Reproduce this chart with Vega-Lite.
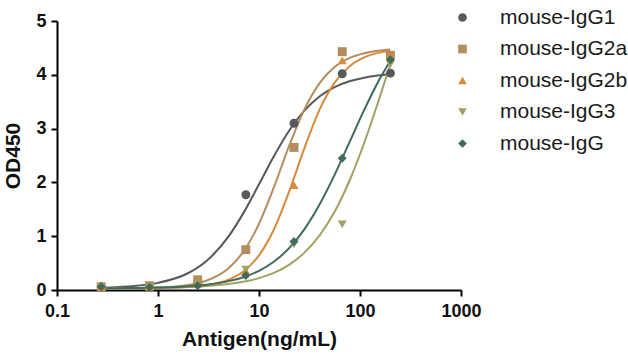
{
  "$schema": "https://vega.github.io/schema/vega-lite/v6.json",
  "width": 404,
  "height": 269,
  "autosize": {"type": "none"},
  "padding": {"left": 57, "top": 21, "right": 167, "bottom": 70},
  "background": "white",
  "datasets": {
    "points": [
      {"series": "mouse-IgG1", "antigen": 0.274, "od": 0.06},
      {"series": "mouse-IgG1", "antigen": 0.823, "od": 0.07},
      {"series": "mouse-IgG1", "antigen": 2.47, "od": 0.15},
      {"series": "mouse-IgG1", "antigen": 7.41, "od": 1.77},
      {"series": "mouse-IgG1", "antigen": 22.2, "od": 3.1},
      {"series": "mouse-IgG1", "antigen": 66.7, "od": 4.02},
      {"series": "mouse-IgG1", "antigen": 200, "od": 4.03},
      {"series": "mouse-IgG2a", "antigen": 0.274, "od": 0.06},
      {"series": "mouse-IgG2a", "antigen": 0.823, "od": 0.08},
      {"series": "mouse-IgG2a", "antigen": 2.47, "od": 0.19},
      {"series": "mouse-IgG2a", "antigen": 7.41, "od": 0.75},
      {"series": "mouse-IgG2a", "antigen": 22.2, "od": 2.65},
      {"series": "mouse-IgG2a", "antigen": 66.7, "od": 4.43},
      {"series": "mouse-IgG2a", "antigen": 200, "od": 4.36},
      {"series": "mouse-IgG2b", "antigen": 0.274, "od": 0.05},
      {"series": "mouse-IgG2b", "antigen": 0.823, "od": 0.06},
      {"series": "mouse-IgG2b", "antigen": 2.47, "od": 0.12},
      {"series": "mouse-IgG2b", "antigen": 7.41, "od": 0.35},
      {"series": "mouse-IgG2b", "antigen": 22.2, "od": 1.95},
      {"series": "mouse-IgG2b", "antigen": 66.7, "od": 4.27},
      {"series": "mouse-IgG2b", "antigen": 200, "od": 4.35},
      {"series": "mouse-IgG3", "antigen": 0.274, "od": 0.05},
      {"series": "mouse-IgG3", "antigen": 0.823, "od": 0.05},
      {"series": "mouse-IgG3", "antigen": 2.47, "od": 0.1},
      {"series": "mouse-IgG3", "antigen": 7.41, "od": 0.38},
      {"series": "mouse-IgG3", "antigen": 22.2, "od": 0.85},
      {"series": "mouse-IgG3", "antigen": 66.7, "od": 1.22},
      {"series": "mouse-IgG3", "antigen": 200, "od": 4.2},
      {"series": "mouse-IgG", "antigen": 0.274, "od": 0.06},
      {"series": "mouse-IgG", "antigen": 0.823, "od": 0.05},
      {"series": "mouse-IgG", "antigen": 2.47, "od": 0.08},
      {"series": "mouse-IgG", "antigen": 7.41, "od": 0.27},
      {"series": "mouse-IgG", "antigen": 22.2, "od": 0.9},
      {"series": "mouse-IgG", "antigen": 66.7, "od": 2.45},
      {"series": "mouse-IgG", "antigen": 200, "od": 4.28}
    ],
    "curves": [
      {"series": "mouse-IgG1", "antigen": 0.27, "od": 0.044},
      {"series": "mouse-IgG1", "antigen": 0.5, "od": 0.066},
      {"series": "mouse-IgG1", "antigen": 1, "od": 0.132},
      {"series": "mouse-IgG1", "antigen": 2, "od": 0.316},
      {"series": "mouse-IgG1", "antigen": 3, "od": 0.535},
      {"series": "mouse-IgG1", "antigen": 5, "od": 0.996},
      {"series": "mouse-IgG1", "antigen": 7, "od": 1.429},
      {"series": "mouse-IgG1", "antigen": 10, "od": 1.965},
      {"series": "mouse-IgG1", "antigen": 14, "od": 2.481},
      {"series": "mouse-IgG1", "antigen": 20, "od": 2.969},
      {"series": "mouse-IgG1", "antigen": 28, "od": 3.329},
      {"series": "mouse-IgG1", "antigen": 40, "od": 3.601},
      {"series": "mouse-IgG1", "antigen": 56, "od": 3.771},
      {"series": "mouse-IgG1", "antigen": 80, "od": 3.885},
      {"series": "mouse-IgG1", "antigen": 110, "od": 3.947},
      {"series": "mouse-IgG1", "antigen": 150, "od": 3.986},
      {"series": "mouse-IgG1", "antigen": 200, "od": 4.009},
      {"series": "mouse-IgG2a", "antigen": 0.27, "od": 0.031},
      {"series": "mouse-IgG2a", "antigen": 0.5, "od": 0.034},
      {"series": "mouse-IgG2a", "antigen": 1, "od": 0.046},
      {"series": "mouse-IgG2a", "antigen": 2, "od": 0.095},
      {"series": "mouse-IgG2a", "antigen": 3, "od": 0.173},
      {"series": "mouse-IgG2a", "antigen": 5, "od": 0.406},
      {"series": "mouse-IgG2a", "antigen": 7, "od": 0.712},
      {"series": "mouse-IgG2a", "antigen": 10, "od": 1.232},
      {"series": "mouse-IgG2a", "antigen": 14, "od": 1.902},
      {"series": "mouse-IgG2a", "antigen": 20, "od": 2.691},
      {"series": "mouse-IgG2a", "antigen": 28, "od": 3.348},
      {"series": "mouse-IgG2a", "antigen": 40, "od": 3.851},
      {"series": "mouse-IgG2a", "antigen": 56, "od": 4.143},
      {"series": "mouse-IgG2a", "antigen": 80, "od": 4.318},
      {"series": "mouse-IgG2a", "antigen": 110, "od": 4.402},
      {"series": "mouse-IgG2a", "antigen": 150, "od": 4.447},
      {"series": "mouse-IgG2a", "antigen": 200, "od": 4.47},
      {"series": "mouse-IgG2b", "antigen": 0.27, "od": 0.031},
      {"series": "mouse-IgG2b", "antigen": 0.5, "od": 0.031},
      {"series": "mouse-IgG2b", "antigen": 1, "od": 0.036},
      {"series": "mouse-IgG2b", "antigen": 2, "od": 0.054},
      {"series": "mouse-IgG2b", "antigen": 3, "od": 0.086},
      {"series": "mouse-IgG2b", "antigen": 5, "od": 0.19},
      {"series": "mouse-IgG2b", "antigen": 7, "od": 0.343},
      {"series": "mouse-IgG2b", "antigen": 10, "od": 0.644},
      {"series": "mouse-IgG2b", "antigen": 14, "od": 1.12},
      {"series": "mouse-IgG2b", "antigen": 20, "od": 1.843},
      {"series": "mouse-IgG2b", "antigen": 28, "od": 2.623},
      {"series": "mouse-IgG2b", "antigen": 40, "od": 3.361},
      {"series": "mouse-IgG2b", "antigen": 56, "od": 3.854},
      {"series": "mouse-IgG2b", "antigen": 80, "od": 4.17},
      {"series": "mouse-IgG2b", "antigen": 110, "od": 4.324},
      {"series": "mouse-IgG2b", "antigen": 150, "od": 4.407},
      {"series": "mouse-IgG2b", "antigen": 200, "od": 4.448},
      {"series": "mouse-IgG3", "antigen": 0.27, "od": 0.032},
      {"series": "mouse-IgG3", "antigen": 0.5, "od": 0.034},
      {"series": "mouse-IgG3", "antigen": 1, "od": 0.04},
      {"series": "mouse-IgG3", "antigen": 2, "od": 0.055},
      {"series": "mouse-IgG3", "antigen": 3, "od": 0.072},
      {"series": "mouse-IgG3", "antigen": 5, "od": 0.11},
      {"series": "mouse-IgG3", "antigen": 7, "od": 0.152},
      {"series": "mouse-IgG3", "antigen": 10, "od": 0.22},
      {"series": "mouse-IgG3", "antigen": 14, "od": 0.318},
      {"series": "mouse-IgG3", "antigen": 20, "od": 0.473},
      {"series": "mouse-IgG3", "antigen": 28, "od": 0.69},
      {"series": "mouse-IgG3", "antigen": 40, "od": 1.021},
      {"series": "mouse-IgG3", "antigen": 56, "od": 1.454},
      {"series": "mouse-IgG3", "antigen": 80, "od": 2.063},
      {"series": "mouse-IgG3", "antigen": 110, "od": 2.732},
      {"series": "mouse-IgG3", "antigen": 150, "od": 3.474},
      {"series": "mouse-IgG3", "antigen": 200, "od": 4.196},
      {"series": "mouse-IgG", "antigen": 0.27, "od": 0.033},
      {"series": "mouse-IgG", "antigen": 0.5, "od": 0.036},
      {"series": "mouse-IgG", "antigen": 1, "od": 0.046},
      {"series": "mouse-IgG", "antigen": 2, "od": 0.07},
      {"series": "mouse-IgG", "antigen": 3, "od": 0.099},
      {"series": "mouse-IgG", "antigen": 5, "od": 0.165},
      {"series": "mouse-IgG", "antigen": 7, "od": 0.238},
      {"series": "mouse-IgG", "antigen": 10, "od": 0.357},
      {"series": "mouse-IgG", "antigen": 14, "od": 0.525},
      {"series": "mouse-IgG", "antigen": 20, "od": 0.783},
      {"series": "mouse-IgG", "antigen": 28, "od": 1.123},
      {"series": "mouse-IgG", "antigen": 40, "od": 1.597},
      {"series": "mouse-IgG", "antigen": 56, "od": 2.14},
      {"series": "mouse-IgG", "antigen": 80, "od": 2.777},
      {"series": "mouse-IgG", "antigen": 110, "od": 3.347},
      {"series": "mouse-IgG", "antigen": 150, "od": 3.858},
      {"series": "mouse-IgG", "antigen": 200, "od": 4.261}
    ]
  },
  "config": {
    "view": {"stroke": null},
    "font": "Liberation Sans",
    "axis": {
      "grid": false,
      "domainColor": "#000000",
      "domainWidth": 2,
      "tickColor": "#000000",
      "tickWidth": 2,
      "tickSize": 6,
      "labelFont": "Liberation Sans",
      "labelFontWeight": "bold",
      "labelFontSize": 18,
      "labelColor": "#111111",
      "titleFont": "Liberation Sans",
      "titleFontWeight": "bold",
      "titleFontSize": 21,
      "titleColor": "#111111"
    },
    "legend": {
      "orient": "none", "legendX": 395, "legendY": -14, "title": null,
      "padding": 0, "symbolSize": 75, "rowPadding": 9.5, "labelOffset": 27,
      "labelFont": "Liberation Sans", "labelFontSize": 21, "labelColor": "#1a1a1a",
      "symbolStrokeWidth": 0, "symbolOpacity": 1
    }
  },
  "layer": [
    {
      "data": {"name": "curves"},
      "mark": {"type": "line", "strokeWidth": 2, "interpolate": "monotone", "clip": false},
      "encoding": {
        "x": {
          "field": "antigen", "type": "quantitative",
          "scale": {"type": "log", "domain": [0.1, 1000]},
          "axis": {"values": [0.1, 1, 10, 100, 1000], "format": "~g", "title": "Antigen(ng/mL)", "labelPadding": 6, "titlePadding": 8, "labelFlush": false}
        },
        "y": {
          "field": "od", "type": "quantitative",
          "scale": {"domain": [0, 5], "nice": false},
          "axis": {"values": [0, 1, 2, 3, 4, 5], "title": "OD450", "labelPadding": 5, "titlePadding": 12}
        },
        "color": {
          "field": "series", "type": "nominal",
          "scale": {"domain": ["mouse-IgG1", "mouse-IgG2a", "mouse-IgG2b", "mouse-IgG3", "mouse-IgG"],
                    "range": ["#58595d", "#b38d5d", "#d68a3c", "#a3a063", "#3f6b57"]}
        },
        "detail": {"field": "series"}
      }
    },
    {
      "data": {"name": "points"},
      "mark": {"type": "point", "filled": true, "size": 80, "opacity": 1, "clip": false},
      "encoding": {
        "x": {"field": "antigen", "type": "quantitative"},
        "y": {"field": "od", "type": "quantitative"},
        "color": {"field": "series", "type": "nominal"},
        "shape": {
          "field": "series", "type": "nominal",
          "scale": {"domain": ["mouse-IgG1", "mouse-IgG2a", "mouse-IgG2b", "mouse-IgG3", "mouse-IgG"],
                    "range": ["circle", "square", "triangle-up", "triangle-down", "diamond"]}
        }
      }
    }
  ]
}
